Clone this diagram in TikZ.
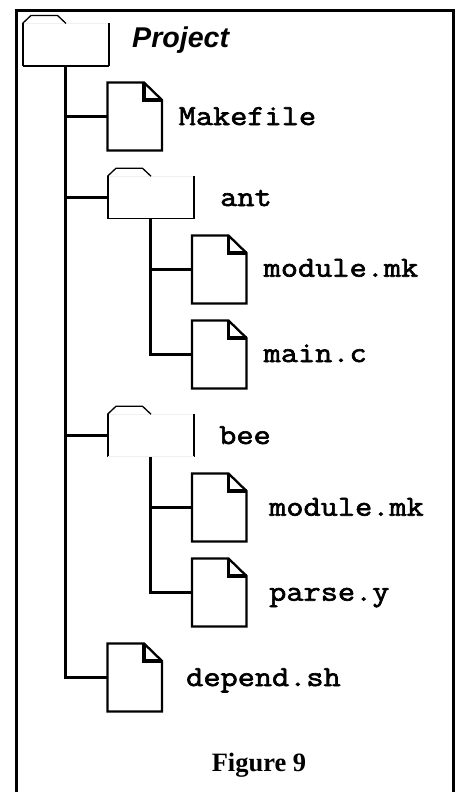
\documentclass[tikz,border=0pt]{standalone}
\usepackage{fontspec}
\newfontfamily\hdfont[BoldItalicFont={Liberation Sans Bold Italic}]{Liberation Sans}
\newfontfamily\capfont{Liberation Serif}
\newfontfamily\codefont[FakeBold=2.2,FakeStretch=1.15]{Latin Modern Mono}
\tikzset{
  x=1pt,y=-1pt,
  boxanchor/.style={inner sep=0pt,outer sep=0pt,draw=none},
  filebox/.style={boxanchor,minimum width=54.5pt,minimum height=68pt},
  folderbox/.style={boxanchor,minimum width=86pt,minimum height=42.5pt},
  outline/.style={line width=2.3pt,line join=miter,fill=white},
  foldline/.style={line width=3.2pt,line join=miter},
  tabline/.style={line width=1.3pt,line join=round},
  sideline/.style={line width=2pt},
  faintline/.style={line width=0.8pt,draw=black!6},
  conn/.style={line width=2.4pt},
  framebox/.style={line width=2.6pt},
  monolabel/.style={inner sep=0pt,anchor=base west,font=\codefont\fontsize{29}{31}\selectfont},
  headlabel/.style={inner sep=0pt,anchor=base west,font=\hdfont\bfseries\itshape\fontsize{28.6}{30}\selectfont},
  caplabel/.style={inner sep=0pt,anchor=base,font=\capfont\bfseries\fontsize{26.5}{28}\selectfont},
}
% name, centre x, centre y
\newcommand{\filenode}[3]{%
  \node[filebox] (#1) at (#2,#3) {};
  \draw[outline] (#1.north west) -- ([xshift=36.5pt]#1.north west) -- ([yshift=-17.5pt]#1.north east) -- (#1.south east) -- (#1.south west) -- cycle;
  \draw[foldline] ([xshift=36.5pt]#1.north west) -- ([xshift=36.5pt,yshift=-17.5pt]#1.north west) -- ([yshift=-17.5pt]#1.north east);
}
% name, centre x, centre y, bottom line style
\newcommand{\foldernode}[4]{%
  \node[folderbox] (#1) at (#2,#3) {};
  \fill[white] (#1.south west) -- (#1.north west) -- ([xshift=8.5pt,yshift=8pt]#1.north west) -- ([xshift=35pt,yshift=8pt]#1.north west) -- ([xshift=43.5pt]#1.north west) -- (#1.north east) -- (#1.south east) -- cycle;
  \draw[faintline] (#1.north west) -- (#1.north east);
  \draw[sideline] (#1.north west) -- (#1.south west);
  \draw[sideline] (#1.north east) -- (#1.south east);
  \draw[#4] (#1.south west) -- (#1.south east);
  \draw[tabline] (#1.north west) -- ([xshift=8.5pt,yshift=8pt]#1.north west) -- ([xshift=35pt,yshift=8pt]#1.north west) -- ([xshift=43.5pt]#1.north west);
}
\begin{document}
\begin{tikzpicture}
\useasboundingbox (0,0) rectangle (462,792);
\fill[white] (0,0) rectangle (462,792);
\draw[framebox] (16.5,792) -- (16.5,10.5) -- (453.5,10.5) -- (453.5,792);
\foldernode{proj}{65.5}{44.7}{line width=1.4pt}
\foldernode{ant}{150.5}{197.5}{line width=1.4pt}
\foldernode{bee}{150.5}{435.5}{faintline}
\filenode{make}{134.75}{116.5}
\filenode{antmk}{219.25}{269.5}
\filenode{antc}{219.25}{354.5}
\filenode{beemk}{219.25}{507.5}
\filenode{beey}{219.25}{592.5}
\filenode{dep}{134.75}{677.5}
\draw[conn] (proj.south) |- (dep.west);
\draw[conn] (proj.south |- make.west) -- (make.west);
\draw[conn] (proj.south |- ant.west) -- (ant.west);
\draw[conn] (proj.south |- bee.west) -- (bee.west);
\draw[conn] (ant.south) |- (antc.west);
\draw[conn] (ant.south |- antmk.west) -- (antmk.west);
\draw[conn] (bee.south) |- (beey.west);
\draw[conn] (bee.south |- beemk.west) -- (beemk.west);
% labels
\node[headlabel] (tproj) at (132,48) {Project};
\node[monolabel] (tmake) at (178.5,125) {Makefile};
\node[monolabel] (tant) at (220,206) {ant};
\node[monolabel] (tantmk) at (263.5,276.7) {module.mk};
\node[monolabel] (tantc) at (263.5,362) {main.c};
\node[monolabel] (tbee) at (219,444) {bee};
\node[monolabel] (tbeemk) at (269,515.7) {module.mk};
\node[monolabel] (tbeey) at (269,600.7) {parse.y};
\node[monolabel] (tdep) at (186,686) {depend.sh};
\node[caplabel] (tcap) at (259,771) {Figure 9};
\end{tikzpicture}
\end{document}
